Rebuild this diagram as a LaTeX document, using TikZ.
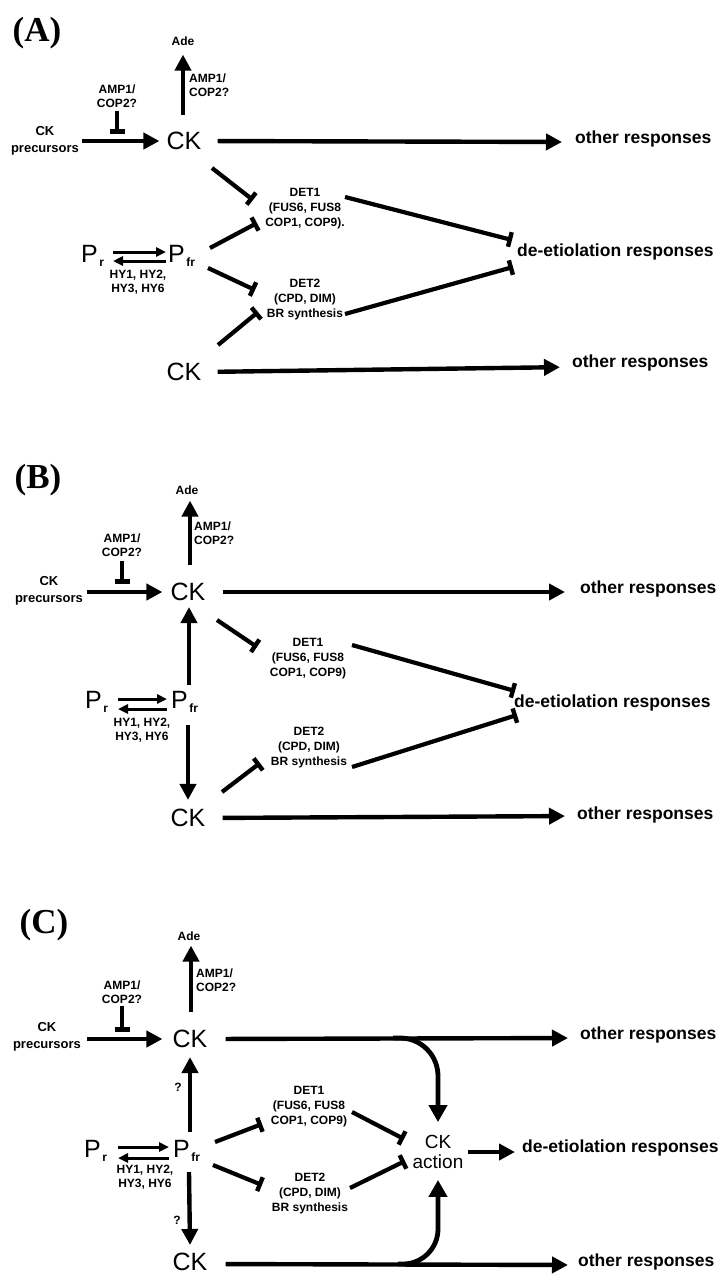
\documentclass[tikz,border=0pt]{standalone}
\usepackage{fontspec}
\setmainfont{Liberation Sans}
\newfontfamily\serifb{Liberation Serif}
\usetikzlibrary{arrows.meta,calc}
\newcommand\subs[1]{\kern1.5pt\raisebox{-4pt}{\fontsize{12}{12}\selectfont\bfseries #1}}
\tikzset{
  lbl/.style={font=\fontsize{12}{14}\selectfont\bfseries, align=center, inner sep=0pt},
  lblw/.style={lbl, align=left, anchor=west},
  prec/.style={font=\fontsize{13}{17}\selectfont\bfseries, align=center, inner sep=0pt},
  big/.style={font=\fontsize{25}{25}\selectfont, inner sep=0pt},
  bigb/.style={big, anchor=base west},
  resp/.style={font=\fontsize{17.5}{20}\selectfont\bfseries, inner sep=0pt, anchor=west},
  paneltag/.style={font=\fontsize{35}{35}\selectfont\serifb\bfseries, inner sep=0pt},
  det/.style={font=\fontsize{12}{15}\selectfont\bfseries, align=center, inner sep=0pt},
  act/.style={font=\fontsize{19}{20}\selectfont, align=center, inner sep=0pt},
  arr/.style={line width=4.4pt, -{Triangle[length=16pt,width=16pt]}},
  carr/.style={line width=4.8pt, -{Triangle[length=17pt,width=18pt]}},
  inh/.style={line width=4.2pt, -{Bar[width=15pt,line width'=4.4pt]}},
  thinarr/.style={line width=3pt, -{Triangle[length=10pt,width=9pt]}},
}
\begin{document}
\begin{tikzpicture}[x=1pt,y=-1pt]
\useasboundingbox[fill=white] (0,0) rectangle (722,1275);

% ================= PANEL A =================
\node[paneltag] (tagA) at (37,33) {(A)};
\node[lbl] (adeA) at (183,41) {Ade};
\node[lblw] (amprA) at (189,85) {AMP1/\\COP2?};
\node[lbl] (amplA) at (117,96) {AMP1/\\COP2?};
\node[prec] (precA) at (45,141) {CK\\precursors};
\node[big] (ckA) at (184,141) {CK};
\node[resp] (othA) at (575,139) {other responses};
\node[det] (det1A) at (305,209) {DET1\\(FUS6, FUS8\\COP1, COP9).};
\node[bigb] (prA) at (81,262) {P\subs{r}};
\node[bigb] (pfrA) at (168,262) {P\subs{fr}};
\node[lbl] (hyA) at (138,282) {HY1, HY2,\\HY3, HY6};
\node[det] (det2A) at (305,300) {DET2\\(CPD, DIM)\\BR synthesis};
\node[big] (ck2A) at (184,372) {CK};
\node[resp] (oth2A) at (572,363) {other responses};
\node[resp] (deA) at (517,252) {de-etiolation responses};

\draw[arr, shorten <=3pt, shorten >=7pt] (precA.east |- ckA) -- (ckA.west);
\draw[arr, shorten <=17pt, shorten >=9pt] (adeA |- ckA.north) -- (adeA.south);
\draw[inh, shorten <=3pt] (amplA.south) -- ++(0,26);
\draw[arr, shorten <=16pt, shorten >=13pt] (ckA.east) -- ($(othA.west)+(0,3)$);
\draw[inh] ($(ckA)+(28,27)$) -- ($(det1A)+(-52,-9)$);
\draw[inh] ($(pfrA.base west)+(42,-14)$) -- ($(det1A)+(-48,14)$);
\draw[inh] ($(pfrA.base west)+(40,6)$) -- ($(det2A)+(-50,-10)$);
\draw[inh] ($(ck2A)+(34,-27)$) -- ($(det2A)+(-47,12)$);
\draw[arr, shorten <=16pt, shorten >=12pt] (ck2A.east) -- ($(oth2A.west)+(0,4)$);
\draw[inh] ($(det1A)+(40,-12)$) -- ($(deA.west)+(-5,-12)$);
\draw[inh] ($(det2A)+(40,14)$) -- ($(deA.west)+(-4,15)$);
\draw[thinarr] ($(prA.base west)+(32,-10)$) -- ($(pfrA.base west)+(-2,-10)$);
\draw[thinarr] ($(pfrA.base west)+(-2,-1)$) -- ($(prA.base west)+(32,-1)$);

% ================= PANEL B =================
\node[paneltag] (tagB) at (38,480) {(B)};
\node[lbl] (adeB) at (187,490) {Ade};
\node[lblw] (amprB) at (194,533) {AMP1/\\COP2?};
\node[lbl] (amplB) at (122,545) {AMP1/\\COP2?};
\node[prec] (precB) at (49,591) {CK\\precursors};
\node[big] (ckB) at (188,592) {CK};
\node[resp] (othB) at (580,589) {other responses};
\node[det] (det1B) at (308,659) {DET1\\(FUS6, FUS8\\COP1, COP9)};
\node[bigb] (prB) at (85,708) {P\subs{r}};
\node[bigb] (pfrB) at (171,708) {P\subs{fr}};
\node[lbl] (hyB) at (142,730) {HY1, HY2,\\HY3, HY6};
\node[det] (det2B) at (309,748) {DET2\\(CPD, DIM)\\BR synthesis};
\node[big] (ck2B) at (188,818) {CK};
\node[resp] (oth2B) at (577,815) {other responses};
\node[resp] (deB) at (514,703) {de-etiolation responses};

\draw[arr, shorten <=4pt, shorten >=8pt] (precB.east |- ckB) -- (ckB.west);
\draw[arr, shorten <=18pt, shorten >=6pt] ($(ckB.north)+(2,0)$) -- ($(adeB.south)+(3,0)$);
\draw[inh, shorten <=4pt] (amplB.south) -- ++(0,27);
\draw[arr, shorten <=17pt, shorten >=15pt] (ckB.east) -- ($(othB.west)+(0,3)$);
\draw[inh] ($(ckB)+(29,28)$) -- ($(det1B)+(-51,-12)$);
\draw[arr] ($(pfrB.base west)+(18,-23)$) -- ($(ckB.south)+(1,6)$);
\draw[arr] ($(pfrB.base west)+(17,17)$) -- ($(ck2B.north)+(0,-9)$);
\draw[inh] ($(ck2B)+(34,-26)$) -- ($(det2B)+(-49,15)$);
\draw[arr, shorten <=17pt, shorten >=12pt] (ck2B.east) -- ($(oth2B.west)+(0,1)$);
\draw[inh] ($(det1B)+(44,-14)$) -- ($(deB.west)+(1,-12)$);
\draw[inh] ($(det2B)+(43,19)$) -- ($(deB.west)+(3,12)$);
\draw[thinarr] ($(prB.base west)+(33,-9)$) -- ($(pfrB.base west)+(-4,-9)$);
\draw[thinarr] ($(pfrB.base west)+(-4,1)$) -- ($(prB.base west)+(33,1)$);

% ================= PANEL C =================
\node[paneltag] (tagC) at (44,925) {(C)};
\node[lbl] (adeC) at (189,936) {Ade};
\node[lblw] (amprC) at (196,980) {AMP1/\\COP2?};
\node[lbl] (amplC) at (122,992) {AMP1/\\COP2?};
\node[prec] (precC) at (47,1037) {CK\\precursors};
\node[big] (ckC) at (190,1039) {CK};
\node[resp] (othC) at (580,1035) {other responses};
\node[det] (det1C) at (309,1107) {DET1\\(FUS6, FUS8\\COP1, COP9)};
\node[bigb] (prC) at (84,1157) {P\subs{r}};
\node[bigb] (pfrC) at (173,1157) {P\subs{fr}};
\node[lbl] (hyC) at (145,1177) {HY1, HY2,\\HY3, HY6};
\node[det] (det2C) at (310,1194) {DET2\\(CPD, DIM)\\BR synthesis};
\node[big] (ck2C) at (190,1262) {CK};
\node[resp] (oth2C) at (578,1262) {other responses};
\node[lbl] (q1C) at (178,1087) {?};
\node[lbl] (q2C) at (177,1220) {?};
\node[act] (actC) at (438,1152) {CK\\action};
\node[resp] (deC) at (522,1148) {de-etiolation responses};

\draw[arr, shorten <=6pt, shorten >=10pt] (precC.east |- ckC) -- (ckC.west);
\draw[arr, shorten <=18pt, shorten >=5pt] ($(ckC.north)+(1,0)$) -- ($(adeC.south)+(2,0)$);
\draw[inh, shorten <=2pt] (amplC.south) -- ++(0,28);
\draw[arr, shorten <=18pt, shorten >=12pt] (ckC.east) -- ($(othC.west)+(0,3)$);
\draw[arr] ($(pfrC.base west)+(17,-25)$) -- ($(ckC.south)+(0,9)$);
\draw[arr] ($(pfrC.base west)+(16,15)$) -- ($(ck2C.north)+(0,-8)$);
\draw[inh] ($(pfrC.base west)+(42,-15)$) -- ($(det1C)+(-47,17)$);
\draw[inh] ($(pfrC.base west)+(40,8)$) -- ($(det2C)+(-48,-9)$);
\draw[inh] ($(det1C)+(43,5)$) -- ($(actC)+(-34,-13)$);
\draw[inh] ($(det2C)+(40,-6)$) -- ($(actC)+(-33,9)$);
\draw[arr, shorten <=4pt, shorten >=7pt] (actC.east) -- (deC.west |- actC);
\draw[carr, rounded corners=38pt] ($(actC.north |- ckC)+(-45,-1)$) -- ($(actC.north |- ckC)+(0,-1)$) -- ($(actC.north)+(0,-13)$);
\draw[carr, rounded corners=35pt] ($(actC.south |- ck2C)+(-40,2)$) -- ($(actC.south |- ck2C)+(0,2)$) -- ($(actC.south)+(0,11)$);
\draw[arr, shorten <=18pt, shorten >=10pt] ($(ck2C.east)+(0,2)$) -- ($(oth2C.west)+(0,3)$);
\draw[thinarr] ($(prC.base west)+(34,-10)$) -- ($(pfrC.base west)+(-4,-10)$);
\draw[thinarr] ($(pfrC.base west)+(-4,1)$) -- ($(prC.base west)+(34,1)$);
\end{tikzpicture}
\end{document}
